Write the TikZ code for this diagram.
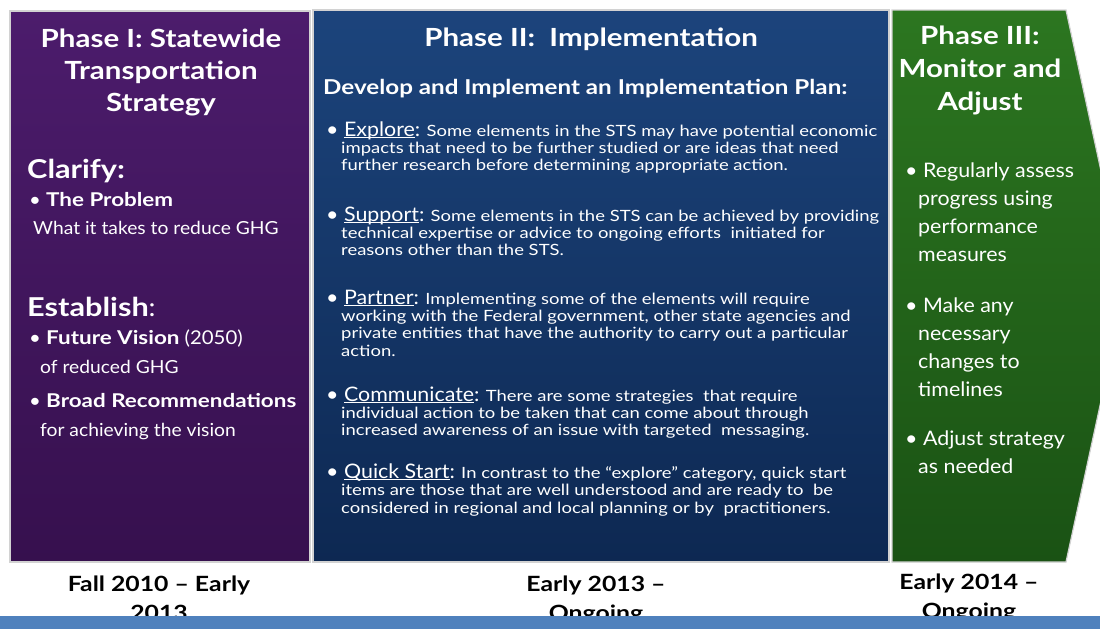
\documentclass[tikz,border=0pt]{standalone}
\usepackage{fontspec}
\setmainfont{Lato}[FakeStretch=1.07,Ligatures=TeX]
\newfontfamily\bwide{Lato}[FakeStretch=1.18,Ligatures=TeX]
\newfontfamily\mwide{Lato}[FakeStretch=1.19,Ligatures=TeX]
\definecolor{purpT}{RGB}{76,28,108}
\definecolor{purpB}{RGB}{54,16,78}
\definecolor{blueT}{RGB}{28,68,124}
\definecolor{blueB}{RGB}{13,40,82}
\definecolor{grnT}{RGB}{44,118,32}
\definecolor{grnB}{RGB}{26,82,20}
\definecolor{barblue}{RGB}{79,129,189}
\begin{document}
\begin{tikzpicture}[x=1pt,y=-1pt,
  ttl/.style={anchor=base,text=white,inner sep=0pt,font=\fontsize{25}{30}\selectfont\bwide\bfseries},
  hd/.style={anchor=base west,text=white,inner sep=0pt,font=\fontsize{26}{30}\selectfont\bwide\bfseries},
  lb/.style={anchor=base west,text=white,inner sep=0pt,font=\fontsize{19}{24}\selectfont},
  lr/.style={anchor=base west,text=white,inner sep=0pt,font=\fontsize{18}{22}\selectfont},
  mb/.style={anchor=base west,text=white,inner sep=0pt,font=\fontsize{15.5}{18}\selectfont\mwide},
  gb/.style={anchor=base west,text=white,inner sep=0pt,font=\fontsize{20}{26}\selectfont},
  dt/.style={anchor=base,text=black,inner sep=0pt,font=\fontsize{21}{26}\selectfont\bwide\bfseries},
  boxline/.style={draw=gray!35,line width=1.2pt}]
\newcommand\lbl[1]{{\fontsize{20}{24}\selectfont\normalfont• \underline{\smash{#1}}:}}
\newcommand\bw[1]{{\bwide\bfseries #1}}
\useasboundingbox (0,0) rectangle (1100,629);
\begin{scope}
\clip (0,0) rectangle (1100,629);
% boxes
\shade[top color=purpT,bottom color=purpB,boxline] (10,11) rectangle (310,562);
\shade[top color=blueT,bottom color=blueB,boxline] (313,10) rectangle (889,562);
\shade[top color=grnT,bottom color=grnB,boxline] (892,10) -- (1066,10) -- (1126,286) -- (1066,562) -- (892,562) -- cycle;

% Phase I
\node[ttl] (t1a) at (161,47) {Phase I: Statewide};
\node[ttl] (t1b) at (161,79) {Transportation};
\node[ttl] (t1c) at (161,111) {Strategy};
\node[hd] (cl) at (27,178) {Clarify:};
\node[lb] (cl1) at (29,206) {• \bw{The Problem}};
\node[lr] (cl2) at (33,234) {What it takes to reduce GHG};
\node[hd] (es) at (27,316) {Establish{\normalfont\mdseries:}};
\node[lb] (es1) at (29,344) {• \bw{Future Vision} (2050)};
\node[lr] (es2) at (40,373) {of reduced GHG};
\node[lb] (es3) at (29,407) {• \bw{Broad Recommendations}};
\node[lr] (es4) at (40,436) {for achieving the vision};

% Phase II
\node[ttl] (t2) at (591,46) {Phase II:\ \ Implementation};
\node[anchor=base west,text=white,inner sep=0pt,font=\fontsize{20.5}{24}\selectfont\bwide\bfseries] (dv) at (323,94) {Develop and Implement an Implementation Plan:};

\node[mb] (ex1) at (326,136) {\lbl{Explore} Some elements in the STS may have potential economic};
\node[mb] (ex2) at (341,153) {impacts that need to be further studied or are ideas that need};
\node[mb] (ex3) at (341,170) {further research before determining appropriate action.};

\node[mb] (su1) at (326,221) {\lbl{Support} Some elements in the STS can be achieved by providing};
\node[mb] (su2) at (341,238) {technical expertise or advice to ongoing efforts\ \ initiated for};
\node[mb] (su3) at (341,255) {reasons other than the STS.};

\node[mb] (pa1) at (326,304) {\lbl{Partner} Implementing some of the elements will require};
\node[mb] (pa2) at (341,321) {working with the Federal government, other state agencies and};
\node[mb] (pa3) at (341,338) {private entities that have the authority to carry out a particular};
\node[mb] (pa4) at (341,356) {action.};

\node[mb] (co1) at (326,401) {\lbl{Communicate} There are some strategies\ \ that require};
\node[mb] (co2) at (341,418) {individual action to be taken that can come about through};
\node[mb] (co3) at (341,435) {increased awareness of an issue with targeted\ \ messaging.};

\node[mb] (qs1) at (326,478) {\lbl{Quick Start} In contrast to the “explore” category, quick start};
\node[mb] (qs2) at (341,495) {items are those that are well understood and are ready to\ \ be};
\node[mb] (qs3) at (341,513) {considered in regional and local planning or by\ \ practitioners.};

% Phase III
\node[ttl] (t3a) at (980,44) {Phase III:};
\node[ttl] (t3b) at (980,77) {Monitor and};
\node[ttl] (t3c) at (980,110) {Adjust};
\node[gb] (g1) at (905,177) {• Regularly assess};
\node[gb] (g2) at (918,205) {progress using};
\node[gb] (g3) at (918,233) {performance};
\node[gb] (g4) at (918,261) {measures};
\node[gb] (g5) at (905,312) {• Make any};
\node[gb] (g6) at (918,340) {necessary};
\node[gb] (g7) at (918,368) {changes to};
\node[gb] (g8) at (918,396) {timelines};
\node[gb] (g9) at (905,445) {• Adjust strategy};
\node[gb] (g10) at (918,473) {as needed};

% dates
\node[dt] (d1a) at (159,591) {Fall 2010 – Early};
\node[dt] (d1b) at (159,620) {2013};
\node[dt] (d2a) at (596,591) {Early 2013 –};
\node[dt] (d2b) at (596,620) {Ongoing};
\node[dt] (d3a) at (969,589) {Early 2014 –};
\node[dt] (d3b) at (969,618) {Ongoing};

% bottom bar
\fill[barblue] (0,616) rectangle (1100,629);
\end{scope}
\end{tikzpicture}
\end{document}
